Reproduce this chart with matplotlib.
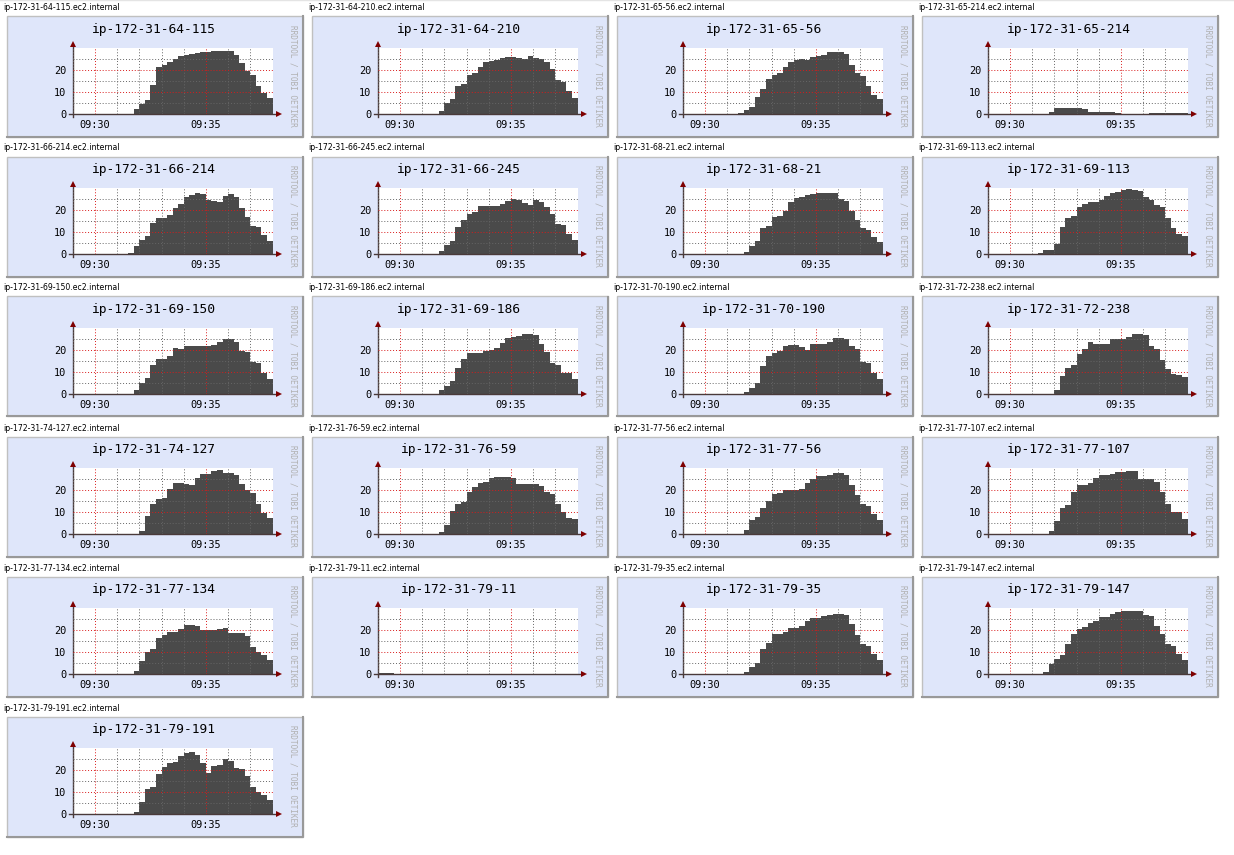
import pandas as pd
import matplotlib
matplotlib.use("Agg")
import matplotlib.pyplot as plt
import matplotlib.dates as mdates
from matplotlib.patches import Rectangle
from matplotlib.lines import Line2D

# load per host, one value every 15 s from 09:29:00 to 09:38:00
hosts = ["ip-172-31-64-115", "ip-172-31-64-210", "ip-172-31-65-56", "ip-172-31-65-214",
         "ip-172-31-66-214", "ip-172-31-66-245", "ip-172-31-68-21", "ip-172-31-69-113",
         "ip-172-31-69-150", "ip-172-31-69-186", "ip-172-31-70-190", "ip-172-31-72-238",
         "ip-172-31-74-127", "ip-172-31-76-59", "ip-172-31-77-56", "ip-172-31-77-107",
         "ip-172-31-77-134", "ip-172-31-79-11", "ip-172-31-79-35", "ip-172-31-79-147",
         "ip-172-31-79-191"]

v_64_115 = [0, 0, 0, 0, 0, 0, 0, 0, 0, 0, 0,
            2.5, 4.7, 6.5, 13.3, 21.5, 22.2, 23.6, 25.0, 26.5, 26.8, 27.3, 27.8, 28.2,
            28.3, 28.6, 28.8, 28.8, 28.8, 27.0, 23.5, 19.8, 18.0, 12.8, 9.8, 7.5]
v_64_210 = [0, 0, 0, 0, 0, 0, 0, 0, 0, 0, 0,
            1.5, 5.0, 7.0, 12.8, 14.0, 17.8, 18.8, 21.3, 24.0, 24.2, 24.5, 25.5, 26.2,
            26.0, 25.5, 25.0, 26.3, 25.6, 25.2, 23.8, 20.8, 15.8, 14.8, 10.6, 7.3]
v_65_56 = [0, 0, 0, 0, 0, 0, 0, 0, 0, 0,
           0.4, 1.8, 3.3, 7.9, 11.5, 15.9, 18.0, 19.0, 21.5, 23.8, 24.5, 25.2, 24.7, 25.9,
           26.7, 26.8, 28.2, 28.2, 28.2, 27.4, 22.4, 19.0, 17.4, 13.0, 8.8, 7.0]
v_65_214 = [0, 0, 0, 0, 0, 0, 0, 0, 0, 0, 0,
            1.2, 2.9, 2.9, 2.9, 2.9, 2.9, 2.3, 1.2, 1.2, 1.2, 1.2, 1.2, 0.6,
            0.15, 0.15, 0.15, 0.15, 0.15, 0.7, 0.7, 0.7, 0.7, 0.7, 0.7, 0.7]
v_66_214 = [0, 0, 0, 0, 0, 0, 0, 0, 0, 0,
            0.6, 3.8, 6.5, 8.3, 14.2, 16.5, 16.5, 17.9, 20.9, 22.9, 25.9, 26.8, 27.7, 27.2,
            24.7, 24.2, 24.0, 26.7, 27.3, 26.2, 21.0, 17.1, 12.9, 12.3, 8.8, 6.1]
v_66_245 = [0.3, 0.3, 0.3, 0, 0, 0, 0, 0, 0, 0, 0,
            1.5, 4.1, 6.1, 12.4, 15.6, 18.5, 19.2, 22.0, 22.0, 22.0, 22.0, 22.7, 24.2,
            25.0, 24.7, 23.2, 22.4, 24.7, 23.6, 21.4, 18.3, 13.9, 13.3, 9.2, 6.4]
v_68_21 = [0, 0, 0, 0, 0, 0, 0, 0, 0, 0, 0,
           1.1, 3.8, 5.9, 11.8, 12.9, 16.8, 17.4, 19.7, 23.6, 25.8, 26.2, 27.0, 27.4,
           27.7, 27.7, 27.7, 27.7, 25.0, 24.2, 19.8, 15.6, 11.8, 11.1, 7.7, 5.5]
v_69_113 = [0, 0, 0, 0, 0, 0, 0, 0, 0,
            0.5, 2.0, 2.0, 4.7, 12.4, 16.5, 17.4, 21.7, 22.9, 23.6, 23.6, 24.7, 26.5, 28.0, 28.5,
            29.4, 29.5, 29.4, 28.9, 26.0, 24.7, 22.6, 21.7, 16.5, 11.8, 9.2, 8.3]
v_69_150 = [0, 0, 0, 0, 0, 0, 0, 0, 0, 0, 0,
            2.0, 5.3, 7.4, 13.3, 16.1, 16.1, 17.4, 20.9, 20.6, 22.0, 22.0, 22.0, 22.0,
            22.0, 22.3, 24.0, 25.2, 25.0, 23.8, 19.8, 19.0, 14.5, 14.1, 9.8, 6.8]
v_69_186 = [0, 0, 0, 0, 0, 0, 0, 0, 0, 0, 0,
            1.8, 3.8, 6.1, 11.8, 16.1, 18.8, 18.8, 18.8, 19.7, 20.3, 20.9, 23.2, 25.8,
            26.2, 26.7, 27.4, 27.4, 27.0, 22.9, 19.0, 14.4, 13.3, 9.8, 9.5, 6.9]
v_70_190 = [0, 0, 0, 0, 0, 0, 0, 0, 0, 0, 0,
            1.1, 2.9, 5.2, 12.9, 17.4, 18.8, 19.5, 22.0, 22.3, 22.3, 21.5, 20.2, 22.9,
            22.9, 22.9, 24.0, 25.5, 25.5, 25.3, 22.0, 20.5, 14.5, 14.1, 9.8, 6.8]
v_72_238 = [0, 0, 0, 0, 0, 0, 0, 0, 0, 0, 0, 0,
            2.0, 8.3, 11.8, 13.3, 18.3, 20.5, 23.6, 23.0, 22.7, 22.9, 25.0,
            25.0, 25.2, 25.9, 27.3, 27.3, 27.0, 22.1, 20.6, 15.6, 11.5, 9.1, 8.8, 8.0]
v_74_127 = [0, 0, 0, 0, 0, 0, 0, 0, 0, 0, 0, 0,
            1.5, 8.3, 13.8, 16.1, 16.5, 20.5, 23.3, 23.2, 22.9, 22.4, 25.5,
            27.3, 27.4, 28.8, 29.1, 27.9, 27.9, 27.0, 22.9, 20.2, 18.8, 13.8, 9.8, 7.3]
v_76_59 = [0, 0, 0, 0, 0, 0, 0, 0, 0, 0, 0,
           1.1, 4.2, 10.6, 13.8, 14.7, 19.2, 21.4, 23.3, 23.8, 25.8, 26.1, 26.1, 26.1,
           25.5, 22.9, 22.9, 22.9, 22.9, 22.0, 19.2, 18.5, 13.8, 10.2, 7.4, 7.0]
v_77_56 = [0, 0, 0, 0, 0, 0, 0, 0, 0, 0, 0,
           2.0, 6.5, 8.0, 12.0, 15.2, 18.3, 18.6, 20.2, 20.2, 20.2, 20.5, 23.2, 25.2,
           26.5, 26.5, 27.1, 27.9, 27.9, 27.0, 22.4, 18.0, 13.8, 12.9, 9.2, 6.5]
v_77_107 = [0.3, 0.3, 0.3, 0, 0, 0, 0, 0, 0, 0, 0,
            1.7, 6.1, 11.8, 13.3, 19.2, 22.4, 22.4, 23.2, 25.5, 27.0, 27.0, 27.3, 28.2,
            28.5, 28.9, 28.8, 25.0, 25.0, 25.0, 23.8, 19.2, 13.8, 10.3, 10.0, 7.0]
v_77_134 = [0, 0, 0, 0, 0, 0, 0, 0, 0, 0, 0,
            1.5, 5.9, 10.2, 11.5, 16.5, 18.0, 19.0, 19.4, 20.5, 22.4, 22.4, 22.0, 20.2,
            20.2, 20.2, 20.6, 20.9, 18.8, 18.8, 18.6, 17.4, 12.4, 10.0, 8.8, 6.5]
v_79_11 = [0.5, 0.5, 0.5, 0, 0, 0, 0, 0, 0, 0, 0,
           0, 0, 0, 0, 0, 0, 0, 0, 0, 0, 0, 0, 0,
           0, 0, 0, 0, 0, 0, 0, 0, 0, 0, 0, 0]
v_79_35 = [0, 0, 0, 0, 0, 0, 0, 0, 0, 0, 0,
           1.2, 3.3, 5.3, 11.4, 14.4, 18.3, 18.3, 19.2, 21.0, 21.0, 22.0, 24.2, 25.8,
           25.8, 26.5, 27.1, 27.4, 27.4, 27.0, 22.9, 17.9, 13.8, 12.9, 9.2, 6.5]
v_79_147 = [0, 0, 0, 0, 0, 0, 0, 0, 0, 0,
            1.1, 4.7, 7.0, 8.8, 13.8, 18.3, 20.5, 21.5, 23.2, 24.4, 26.1, 26.1, 27.3, 28.2,
            28.8, 28.8, 28.8, 28.8, 27.0, 26.5, 22.1, 18.5, 13.8, 12.9, 9.2, 6.5]
v_79_191 = [0, 0, 0, 0, 0, 0, 0, 0, 0, 0, 0,
            1.0, 5.5, 11.7, 12.5, 18.5, 21.5, 23.3, 23.6, 26.5, 28.0, 28.3, 27.0, 23.5,
            18.8, 22.0, 22.3, 25.0, 24.2, 21.0, 20.7, 17.5, 12.3, 10.0, 8.8, 6.3]

series = [v_64_115, v_64_210, v_65_56, v_65_214, v_66_214, v_66_245, v_68_21,
          v_69_113, v_69_150, v_69_186, v_70_190, v_72_238, v_74_127, v_76_59,
          v_77_56, v_77_107, v_77_134, v_79_11, v_79_35, v_79_147, v_79_191]

start = pd.Timestamp("2015-06-01 09:29:00")
times = pd.date_range(start, periods=37, freq="15s")

W, H = 1234, 855
MONO = "DejaVu Sans Mono"
plt.rcParams["font.family"] = MONO

fig = plt.figure(figsize=(W / 100, H / 100), dpi=100)
fig.patch.set_facecolor("white")


def fx(px):
    return px / W


def fy(py):
    return 1 - py / H


fig.add_artist(Line2D([0, 1], [fy(0.5), fy(0.5)], transform=fig.transFigure,
                      color="#e4e4e4", lw=1, zorder=-3))

for i, (host, vals) in enumerate(zip(hosts, series)):
    row, col = divmod(i, 4)
    x0, y0 = col * 305, row * 140

    fig.text(fx(x0 + 3), fy(y0 + 8), host + ".ec2.internal", family="DejaVu Sans",
             fontsize=5.6, ha="left", va="center")
    # panel background behind the axes
    fig.add_artist(Rectangle((fx(x0 + 6.5), fy(y0 + 136.5)), 296 / W, 120 / H,
                             transform=fig.transFigure, facecolor="#dfe6fa",
                             edgecolor="#c0c0c0", lw=1, zorder=-3))
    fig.add_artist(Line2D([fx(x0 + 6.5), fx(x0 + 302.5), fx(x0 + 302.5)],
                          [fy(y0 + 136.5), fy(y0 + 136.5), fy(y0 + 16.5)],
                          transform=fig.transFigure, color="#999999", lw=1.5, zorder=-2))
    fig.text(fx(x0 + 154), fy(y0 + 29), host, fontsize=9.3, ha="center", va="center")
    fig.text(fx(x0 + 293), fy(y0 + 76), "RRDTOOL / TOBI OETIKER", fontsize=5.6,
             rotation=270, ha="center", va="center", color="#b0b0b0")

    ax = fig.add_axes([fx(x0 + 72.7), fy(y0 + 114.3), 200.6 / W, 66 / H])
    ax.set_facecolor("white")
    for s in ax.spines.values():
        s.set_visible(False)

    ax.fill_between(times, vals + vals[-1:], step="post", color="#4a4a4a", lw=0)

    ax.set_xlim(start, start + pd.Timedelta(seconds=542))
    ax.set_ylim(0, 30)
    ax.set_yticks([0, 10, 20])
    ax.set_yticks([5, 15, 25], minor=True)
    ax.xaxis.set_major_locator(mdates.MinuteLocator(byminute=[30, 35]))
    ax.xaxis.set_minor_locator(mdates.MinuteLocator())
    ax.xaxis.set_major_formatter(mdates.DateFormatter("%H:%M"))
    ax.tick_params(which="both", length=0, labelsize=7.4)
    ax.tick_params(axis="y", pad=4.8)
    ax.tick_params(axis="x", pad=4)
    ax.set_axisbelow(False)
    # semi-transparent grid, faint where it crosses the area
    ax.grid(which="major", color=(0.85, 0.1, 0.1, 0.5), ls=(0, (1, 2)), lw=0.7)
    ax.grid(which="minor", color=(0.4, 0.4, 0.4, 0.4), ls=(0, (1, 2)), lw=0.7)

    # axes with arrow heads
    ax.plot([0, 0], [-0.036, 1.07], transform=ax.transAxes, color="#4a3a3a",
            lw=1, clip_on=False)
    ax.plot([0], [1.07], marker="^", ms=4, color="#7f0000", mew=0,
            transform=ax.transAxes, clip_on=False)
    ax.plot([-0.017, 1.02], [0, 0], transform=ax.transAxes, color="#4a3a3a",
            lw=1, clip_on=False)
    ax.plot([1.026], [0], marker=">", ms=4, color="#7f0000", mew=0,
            transform=ax.transAxes, clip_on=False)

fig.savefig("out.png", dpi=100, facecolor="white")
